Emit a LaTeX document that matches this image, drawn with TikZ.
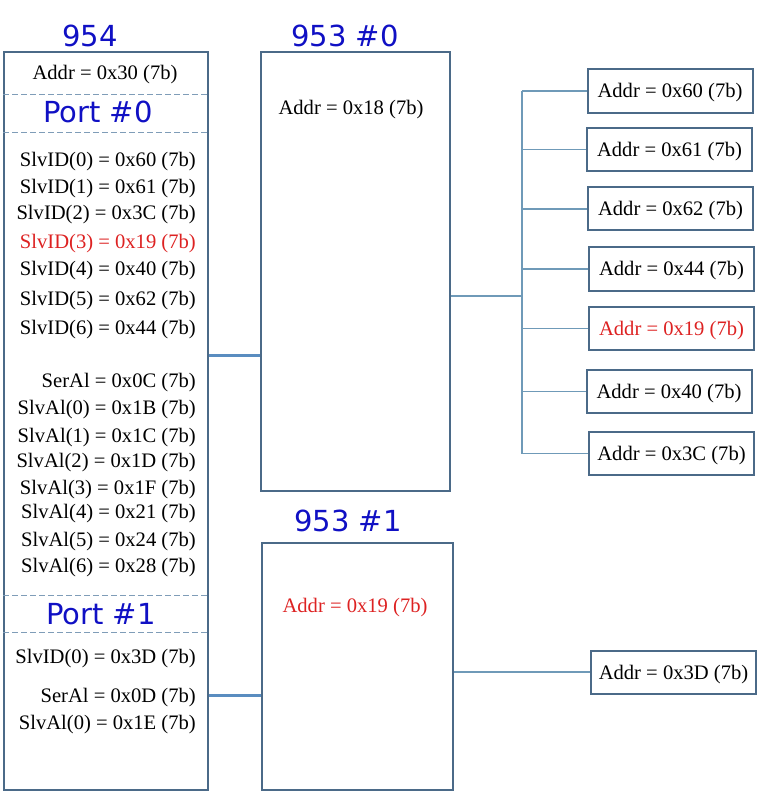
\documentclass[tikz,border=0pt]{standalone}
\usepackage{fontspec}
\setmainfont{Liberation Serif}
\newfontfamily\titlefont{DejaVu Sans}
\usetikzlibrary{positioning}
\definecolor{chipEdge}{HTML}{4B6A88}
\definecolor{linkBlue}{HTML}{5A8DC0}
\definecolor{tapBlue}{HTML}{6F9AB8}
\definecolor{sepBlue}{HTML}{7F9DB8}
\definecolor{titleBlue}{HTML}{1010C4}
\definecolor{hotRed}{HTML}{DD2222}
\tikzset{
  chipbox/.style={
    rectangle, draw=chipEdge, line width=2pt, inner sep=0pt,
  },
  addrbox/.style={
    rectangle, draw=chipEdge, line width=2pt, inner sep=0pt,
    minimum width=165pt, minimum height=43pt,
    text height=14pt, text depth=0pt,
    font=\fontsize{20.6}{24}\selectfont,
  },
  titleTxt/.style={
    inner sep=0pt, text=titleBlue, font=\titlefont\fontsize{29}{34}\selectfont,
  },
  regTxt/.style={
    inner sep=0pt, text height=14pt, text depth=0pt,
    font=\fontsize{20.6}{24}\selectfont,
  },
  linkThick/.style={
    line width=3pt, draw=linkBlue,
  },
  tapLine/.style={
    line width=1.2pt, draw=tapBlue,
  },
  portSep/.style={
    line width=0.9pt, draw=sepBlue, dash pattern=on 6pt off 3pt,
  },
}
\begin{document}
\begin{tikzpicture}[x=1pt,y=-1pt]
\useasboundingbox (0,0) rectangle (775,791);

% chips
\node[chipbox, minimum width=204pt, minimum height=738pt] (c954) at (106,421) {};
\node[chipbox, minimum width=189pt, minimum height=439pt] (c953a) at (355.5,271.5) {};
\node[chipbox, minimum width=191pt, minimum height=247pt] (c953b) at (357.5,666.5) {};

\node[titleTxt] (t954) at (90,36) {954};
\node[titleTxt] (t953a) at (345,36) {953 \#0};
\node[titleTxt] (t953b) at (348,521) {953 \#1};

% port separators in 954
\foreach \y [count=\k] in {94,132,595,632}
{
  \coordinate (s\k) at (0,\y);
  \draw[portSep] (c954.west |- s\k) -- (c954.east |- s\k);
}
\node[titleTxt] (p0) at (98,112) {Port \#0};
\node[titleTxt] (p1) at (101,614) {Port \#1};

\node[regTxt] (addr954) at (105,73) {Addr = 0x30 (7b)};
\node[regTxt] (addr953a) at (351,108) {Addr = 0x18 (7b)};
\node[regTxt, text=hotRed] (addr953b) at (355,605) {Addr = 0x19 (7b)};

% register lines
\foreach \i/\y/\txt/\col in {%
  0/160/{SlvID(0) = 0x60 (7b)}/black,%
  1/187/{SlvID(1) = 0x61 (7b)}/black,%
  2/213/{SlvID(2) = 0x3C (7b)}/black,%
  3/241/{SlvID(3) = 0x19 (7b)}/hotRed,%
  4/269/{SlvID(4) = 0x40 (7b)}/black,%
  5/298/{SlvID(5) = 0x62 (7b)}/black,%
  6/327/{SlvID(6) = 0x44 (7b)}/black,%
  7/380/{SerAl = 0x0C (7b)}/black,%
  8/407/{SlvAl(0) = 0x1B (7b)}/black,%
  9/435/{SlvAl(1) = 0x1C (7b)}/black,%
  10/460/{SlvAl(2) = 0x1D (7b)}/black,%
  11/487/{SlvAl(3) = 0x1F (7b)}/black,%
  12/511/{SlvAl(4) = 0x21 (7b)}/black,%
  13/539/{SlvAl(5) = 0x24 (7b)}/black,%
  14/565/{SlvAl(6) = 0x28 (7b)}/black,%
  15/656/{SlvID(0) = 0x3D (7b)}/black,%
  16/695/{SerAl = 0x0D (7b)}/black,%
  17/722/{SlvAl(0) = 0x1E (7b)}/black%
}
{
  \node[regTxt, text=\col, anchor=east] (r\i) at (196,\y) {\txt};
}

% remote slaves
\node[addrbox, minimum height=44pt] (a60) at (670,91) {Addr = 0x60 (7b)};
\node[addrbox] (a61) at (669.5,149.5) {Addr = 0x61 (7b)};
\node[addrbox] (a62) at (670.5,209) {Addr = 0x62 (7b)};
\node[addrbox] (a44) at (671.5,269) {Addr = 0x44 (7b)};
\node[addrbox, text=hotRed] (a19) at (671.5,328.5) {Addr = 0x19 (7b)};
\node[addrbox] (a40) at (669,391.5) {Addr = 0x40 (7b)};
\node[addrbox] (a3C) at (671.5,453.5) {Addr = 0x3C (7b)};
\node[addrbox] (a3D) at (673.5,672) {Addr = 0x3D (7b)};

% links 954 -> 953
\coordinate (j0) at (0,355);
\coordinate (j1) at (0,695);
\draw[linkThick] (c954.east |- j0) -- (c953a.west |- j0);
\draw[linkThick] (c954.east |- j1) -- (c953b.west |- j1);

% I2C bus behind 953 #0
\coordinate (bus) at (522,296);
\draw[tapLine] (c953a.east |- bus) -- (bus);
\draw[tapLine] (bus |- a60.west) -- (bus |- a3C.west);
\foreach \n in {a60,a61,a62,a44,a19,a40,a3C}
  \draw[tapLine] (bus |- \n.west) -- (\n.west);

\draw[tapLine] (c953b.east |- a3D.west) -- (a3D.west);

\end{tikzpicture}
\end{document}
